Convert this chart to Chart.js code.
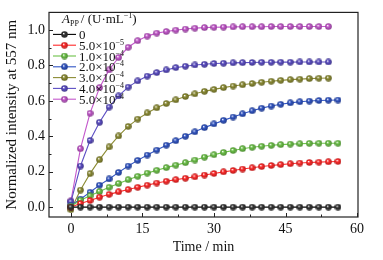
<!DOCTYPE html>
<html lang="en">
<head>
    <meta charset="UTF-8">
    <title>Normalized intensity vs time</title>
    <script src="https://cdn.jsdelivr.net/npm/chart.js@4.4.1/dist/chart.umd.min.js"></script>
    <style>
        html, body { margin: 0; padding: 0; background: #fff; }
        .chart-box { position: relative; width: 383px; height: 260px; }
    </style>
</head>
<body>
    <div class="chart-box">
        <canvas id="kineticsChart"></canvas>
    </div>
    <script>
        // Time points (min)
        const timeMin = [0, 2, 4, 6, 8, 10, 12, 14, 16, 18, 20, 22, 24, 26, 28,
                         30, 32, 34, 36, 38, 40, 42, 44, 46, 48, 50, 52, 54, 56];

        // Normalized intensity at 557 nm, one array per A_PP level
        const series0    = [0, 0, 0, 0, 0, 0, 0, 0, 0, 0, 0, 0, 0, 0, 0,
                            0, 0, 0, 0, 0, 0, 0, 0, 0, 0, 0, 0, 0, 0];
        const series5e5  = [0, 0.02, 0.037, 0.056, 0.072, 0.086, 0.099, 0.112, 0.124, 0.136, 0.146, 0.155, 0.163, 0.171, 0.181,
                            0.19, 0.199, 0.207, 0.215, 0.222, 0.229, 0.235, 0.24, 0.245, 0.249, 0.252, 0.254, 0.256, 0.258];
        const series1e4  = [0.005, 0.039, 0.064, 0.088, 0.112, 0.133, 0.155, 0.174, 0.192, 0.208, 0.223, 0.237, 0.251, 0.266, 0.282,
                            0.296, 0.309, 0.32, 0.33, 0.338, 0.344, 0.349, 0.353, 0.356, 0.358, 0.36, 0.361, 0.361, 0.361];
        const series2e4  = [0.01, 0.045, 0.084, 0.124, 0.159, 0.196, 0.232, 0.264, 0.294, 0.322, 0.35, 0.375, 0.4, 0.425, 0.449,
                            0.47, 0.49, 0.509, 0.527, 0.544, 0.559, 0.571, 0.581, 0.589, 0.595, 0.599, 0.602, 0.604, 0.605];
        const series3e4  = [-0.015, 0.096, 0.189, 0.268, 0.34, 0.402, 0.456, 0.497, 0.532, 0.561, 0.585, 0.606, 0.625, 0.64,
                            0.654, 0.665, 0.675, 0.684, 0.691, 0.698, 0.705, 0.711, 0.716, 0.72, 0.723, 0.726, 0.728, 0.729];
        const series4e4  = [0.03, 0.232, 0.376, 0.479, 0.565, 0.628, 0.678, 0.713, 0.74, 0.76, 0.775, 0.788, 0.796, 0.803,
                            0.807, 0.811, 0.813, 0.815, 0.816, 0.817, 0.818, 0.818, 0.819, 0.819, 0.82, 0.82, 0.82, 0.82];
        const series5e4  = [0.035, 0.33, 0.53, 0.675, 0.775, 0.845, 0.903, 0.94, 0.966, 0.983, 0.992, 1.0, 1.006, 1.011,
                            1.014, 1.016, 1.017, 1.018, 1.019, 1.019, 1.019, 1.02, 1.02, 1.02, 1.02, 1.02, 1.02, 1.02];

        // Legend labels (mantissa ^ exponent)
        const seriesLabels = ['0', '5.0×10^−5', '1.0×10^−4', '2.0×10^−4', '3.0×10^−4', '4.0×10^−4', '5.0×10^−4'];
        const seriesValues = [series0, series5e5, series1e4, series2e4, series3e4, series4e4, series5e4];
        const seriesColors = ['#000000', '#ff2a2a', '#6cc248', '#3054c4', '#8c8c34', '#5c4ec4', '#c458cc'];

        // Axis ticks
        const xTicks = [0, 15, 30, 45, 60];
        const xMinorTicks = [7.5, 22.5, 37.5, 52.5];
        const yTicks = [0, 0.2, 0.4, 0.6, 0.8, 1.0];
        const yMinorTicks = [0.1, 0.3, 0.5, 0.7, 0.9];

        const SERIF = '"Liberation Serif", "DejaVu Serif", serif';
        const BALL = 7;

        // small shaded ball used as point marker
        function makeBall(color) {
            const c = document.createElement('canvas');
            c.width = BALL; c.height = BALL;
            const g = c.getContext('2d');
            const grad = g.createRadialGradient(BALL * 0.38, BALL * 0.36, 0.2, BALL / 2, BALL / 2, BALL / 2);
            grad.addColorStop(0, '#ffffff');
            grad.addColorStop(0.3, color);
            grad.addColorStop(1, shade(color, 0.7));
            g.fillStyle = grad;
            g.beginPath();
            g.arc(BALL / 2, BALL / 2, BALL / 2 - 0.2, 0, Math.PI * 2);
            g.fill();
            return c;
        }

        function shade(hex, f) {
            const n = parseInt(hex.slice(1), 16);
            const r = Math.round(((n >> 16) & 255) * f);
            const gg = Math.round(((n >> 8) & 255) * f);
            const b = Math.round((n & 255) * f);
            return 'rgb(' + r + ',' + gg + ',' + b + ')';
        }

        const balls = seriesColors.map(col => makeBall(col === '#000000' ? '#333333' : col));

        const datasets = seriesValues.map((vals, i) => ({
            label: seriesLabels[i],
            data: vals.map((v, j) => ({ x: timeMin[j], y: v })),
            borderColor: seriesColors[i],
            borderWidth: 1.1,
            pointStyle: balls[i],
            pointRadius: 3.5,
            fill: false,
            tension: 0
        }));

        // inward ticks, frame and the custom legend
        const framePlugin = {
            id: 'frameAndLegend',
            afterDraw(chart) {
                const ctx = chart.ctx;
                const a = chart.chartArea;
                const xs = chart.scales.x, ys = chart.scales.y;
                ctx.save();
                ctx.strokeStyle = '#222';
                ctx.lineWidth = 1.2;
                ctx.strokeRect(a.left, a.top, a.right - a.left, a.bottom - a.top);
                ctx.lineWidth = 1;
                ctx.beginPath();
                xTicks.forEach(t => {
                    const px = Math.round(xs.getPixelForValue(t)) + 0.5;
                    ctx.moveTo(px, a.bottom); ctx.lineTo(px, a.bottom - 4);
                });
                xMinorTicks.forEach(t => {
                    const px = Math.round(xs.getPixelForValue(t)) + 0.5;
                    ctx.moveTo(px, a.bottom); ctx.lineTo(px, a.bottom - 2.5);
                });
                yTicks.forEach(t => {
                    const py = Math.round(ys.getPixelForValue(t)) + 0.5;
                    ctx.moveTo(a.left, py); ctx.lineTo(a.left + 4, py);
                });
                yMinorTicks.forEach(t => {
                    const py = Math.round(ys.getPixelForValue(t)) + 0.5;
                    ctx.moveTo(a.left, py); ctx.lineTo(a.left + 2.5, py);
                });
                ctx.stroke();

                // legend title: A_PP / (U·mL^-1)
                ctx.fillStyle = '#111';
                ctx.textBaseline = 'alphabetic';
                let x = a.left + 13, y = a.top + 11;
                ctx.font = 'italic 13px ' + SERIF;
                ctx.fillText('A', x, y); x += ctx.measureText('A').width;
                ctx.font = '8px ' + SERIF;
                ctx.fillText('PP', x, y + 3); x += ctx.measureText('PP').width + 2;
                ctx.font = '13px ' + SERIF;
                ctx.fillText('/ (U·mL', x, y); x += ctx.measureText('/ (U·mL').width;
                ctx.font = '8px ' + SERIF;
                ctx.fillText('−1', x, y - 5); x += ctx.measureText('−1').width;
                ctx.font = '13px ' + SERIF;
                ctx.fillText(')', x, y);

                // legend entries
                seriesLabels.forEach((lab, i) => {
                    const cy = a.top + 22 + i * 10.8;
                    const x0 = a.left + 4, x1 = a.left + 27;
                    ctx.strokeStyle = seriesColors[i];
                    ctx.lineWidth = 1.1;
                    ctx.beginPath();
                    ctx.moveTo(x0, cy); ctx.lineTo(x1, cy);
                    ctx.stroke();
                    ctx.drawImage(balls[i], (x0 + x1) / 2 - BALL / 2, cy - BALL / 2, BALL, BALL);
                    const parts = lab.split('^');
                    let tx = a.left + 30;
                    ctx.fillStyle = '#111';
                    ctx.font = '13px ' + SERIF;
                    ctx.fillText(parts[0], tx, cy + 4.5);
                    if (parts[1]) {
                        tx += ctx.measureText(parts[0]).width;
                        ctx.font = '8px ' + SERIF;
                        ctx.fillText(parts[1], tx, cy - 0.5);
                    }
                });
                ctx.restore();
            }
        };

        new Chart(document.getElementById('kineticsChart'), {
            type: 'line',
            data: { datasets: datasets },
            options: {
                responsive: true,
                maintainAspectRatio: false,
                animation: false,
                layout: { padding: { top: 11, right: 25, left: 0, bottom: 0 } },
                plugins: {
                    legend: { display: false },
                    tooltip: { enabled: false }
                },
                scales: {
                    x: {
                        type: 'linear',
                        min: -4.6,
                        max: 60.2,
                        afterFit: s => { s.height = 43; },
                        afterBuildTicks: s => { s.ticks = xTicks.map(v => ({ value: v })); },
                        grid: { display: false, drawTicks: false },
                        border: { display: false },
                        ticks: {
                            padding: 4,
                            color: '#111',
                            font: { family: SERIF, size: 14 },
                            maxRotation: 0
                        },
                        title: {
                            display: true,
                            text: 'Time / min',
                            color: '#111',
                            font: { family: SERIF, size: 14 },
                            padding: { top: 0, bottom: 4 }
                        }
                    },
                    y: {
                        min: -0.056,
                        max: 1.1,
                        afterFit: s => { s.width = 49; },
                        afterBuildTicks: s => { s.ticks = yTicks.map(v => ({ value: v })); },
                        grid: { display: false, drawTicks: false },
                        border: { display: false },
                        ticks: {
                            padding: 4,
                            color: '#111',
                            font: { family: SERIF, size: 14 },
                            callback: v => v.toFixed(1)
                        },
                        title: {
                            display: true,
                            text: 'Normalized intensity at 557 nm',
                            color: '#111',
                            font: { family: SERIF, size: 15 },
                            padding: { top: 3, bottom: 0 }
                        }
                    }
                }
            },
            plugins: [framePlugin]
        });
    </script>
</body>
</html>
